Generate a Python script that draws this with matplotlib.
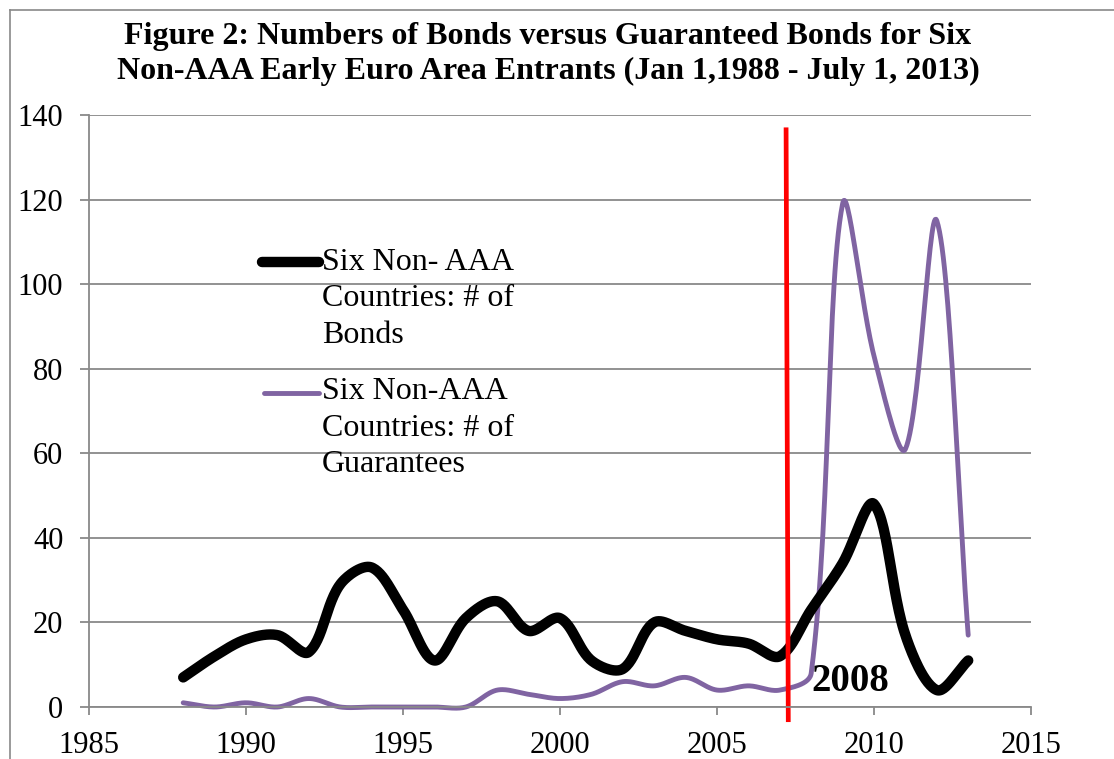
import numpy as np
import matplotlib.pyplot as plt
from matplotlib.lines import Line2D

years = np.arange(1988, 2014)
bonds = [7, 12, 16, 17, 13, 29, 33, 23, 11, 21, 25, 18, 21, 11, 9, 20, 18, 16,
         15, 12, 23, 34, 48, 17, 4, 11]
guarantees = [1, 0, 1, 0, 2, 0, 0, 0, 0, 0, 4, 3, 2, 3, 6, 5, 7, 4, 5, 4, 8,
              119, 83, 61, 115, 17]

crisis_x = [2007.2, 2007.27]
crisis_y = [136.5, -3]
crisis_label = '2008'

title = ('Figure 2: Numbers of Bonds versus Guaranteed Bonds for Six\n'
         'Non-AAA Early Euro Area Entrants (Jan 1,1988 - July 1, 2013)')
label_bonds = 'Six Non- AAA\nCountries: # of\nBonds'
label_guar = 'Six Non-AAA\nCountries: # of\nGuarantees'

W, H = 1114, 759
plt.rcParams['font.family'] = ['Liberation Serif', 'DejaVu Serif']

fig = plt.figure(figsize=(W / 100, H / 100), dpi=100)
ax = fig.add_axes([89 / W, 1 - 707 / H, (1031 - 89) / W, (707 - 115) / H])

XMIN, XMAX, YMIN, YMAX = 1985, 2015, 0, 140
sx = (1031 - 89) / (XMAX - XMIN)
sy = (707 - 115) / (YMAX - YMIN)


def smooth(x, y, n=30):
    # excel-like smoothing: bezier segments, tangent split by chord lengths (pixels)
    pts = np.column_stack([np.asarray(x, float) * sx, np.asarray(y, float) * sy])
    out = [pts[0]]
    t = np.linspace(0, 1, n)[1:, None]
    m = len(pts)
    for i in range(m - 1):
        p0, p1 = pts[max(i - 1, 0)], pts[i]
        p2, p3 = pts[i + 1], pts[min(i + 2, m - 1)]
        d01 = np.linalg.norm(p1 - p0)
        d12 = np.linalg.norm(p2 - p1)
        d23 = np.linalg.norm(p3 - p2)
        c1 = p1 + (p2 - p0) * d12 / (d01 + d12) / 3
        c2 = p2 - (p3 - p1) * d12 / (d12 + d23) / 3
        seg = ((1 - t) ** 3) * p1 + 3 * ((1 - t) ** 2) * t * c1 \
            + 3 * (1 - t) * t ** 2 * c2 + t ** 3 * p2
        out.extend(seg)
    out = np.array(out)
    return out[:, 0] / sx, out[:, 1] / sy


grey = '#898989'
ax.set_xlim(XMIN, XMAX)
ax.set_ylim(YMIN, YMAX)
ax.set_yticks(np.arange(0, 141, 20))
ax.set_xticks(np.arange(1985, 2016, 5))
ax.grid(axis='y', color=grey, lw=1.3)
ax.set_axisbelow(True)
for s in ['top', 'right']:
    ax.spines[s].set_visible(False)
for s in ['left', 'bottom']:
    ax.spines[s].set_color(grey)
    ax.spines[s].set_linewidth(1.3)
ax.tick_params(axis='both', colors=grey, width=1.3, labelcolor='black',
               labelsize=22)
ax.tick_params(axis='x', length=6, pad=11)
ax.tick_params(axis='y', length=6.5, pad=12)

bx, by = smooth(years, bonds)
gx, gy = smooth(years, guarantees)
ax.plot(gx, gy, color='#8064A2', lw=3.5, solid_capstyle='round', clip_on=False)
ax.plot(bx, by, color='black', lw=7.5, solid_capstyle='round', clip_on=False)

ax.plot(crisis_x, crisis_y, color='red', lw=3.4, clip_on=False)
ax.text(2008.02, 6.1, crisis_label, fontsize=28, fontweight='bold',
        ha='left', va='center')

# title and chart border
fig.text(548 / W, 1 - 22 / H, title, ha='center', va='top', fontsize=23,
         fontweight='bold', linespacing=1.25)
fig.add_artist(Line2D([10 / W, 10 / W], [0, 1 - 10 / H], color=grey, lw=1.2))
fig.add_artist(Line2D([10 / W, 1], [1 - 10 / H, 1 - 10 / H], color=grey, lw=1.2))

# legend
fig.add_artist(Line2D([262 / W, 319 / W], [1 - 262 / H] * 2, color='black',
                      lw=7.5, solid_capstyle='round'))
fig.add_artist(Line2D([264 / W, 319 / W], [1 - 393 / H] * 2, color='#8064A2',
                      lw=3.5, solid_capstyle='round'))
fig.text(322 / W, 1 - 299 / H, label_bonds, fontsize=23, ha='left',
         va='center', linespacing=1.33)
fig.text(322 / W, 1 - 428 / H, label_guar, fontsize=23, ha='left',
         va='center', linespacing=1.33)

fig.savefig('out.png', dpi=100)
